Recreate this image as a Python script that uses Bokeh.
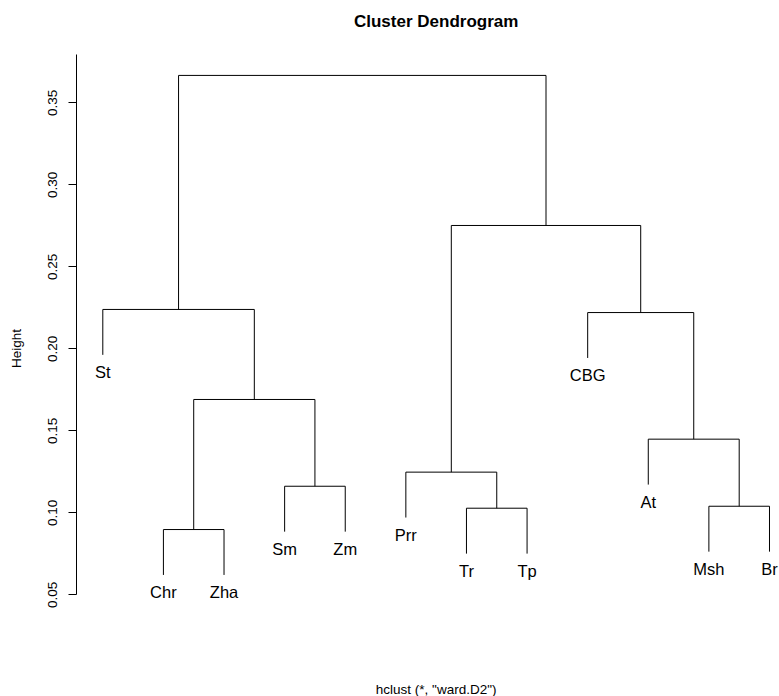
from bokeh.plotting import figure
from bokeh.models import Range1d, FixedTicker, PrintfTickFormatter, Label, ColumnDataSource
from bokeh.core.properties import value
from bokeh.embed import file_html
from bokeh.resources import INLINE

# ---- data ----
leaf_labels = ["St", "Chr", "Zha", "Sm", "Zm", "Prr", "Tr", "Tp", "CBG", "At", "Msh", "Br"]
# hclust-style merge table: negative = leaf (1-based index into leaf_labels), positive = earlier merge
merge_left = [-2, -7, -11, -4, -6, -10, 1, -9, -1, 5, 9]
merge_right = [-3, -8, -12, -5, 2, 3, 4, 6, 7, 8, 10]
merge_height = [0.0898, 0.1028, 0.1040, 0.1162, 0.1248, 0.1449, 0.1691, 0.2221, 0.2240, 0.2752, 0.3667]
y_ticks = [0.05, 0.10, 0.15, 0.20, 0.25, 0.30, 0.35]
axis_top = 0.3795
title_text = "Cluster Dendrogram"
sub_text = 'hclust (*, "ward.D2")'
y_label = "Height"

FONT = "Liberation Sans"

# ---- build dendrogram geometry ----
hang = 0.1 * (max(merge_height) - min(merge_height))
node_x, node_h = {}, {}
x0, y0, x1, y1 = [], [], [], []
leaf_x, leaf_y, leaf_t = [], [], []
for k, (l, r, h) in enumerate(zip(merge_left, merge_right, merge_height), start=1):
    xs = []
    for c in (l, r):
        if c < 0:
            cx = float(-c)
            cy = h - hang
            leaf_x.append(cx)
            leaf_y.append(cy)
            leaf_t.append(leaf_labels[-c - 1])
        else:
            cx = node_x[c]
            cy = node_h[c]
        x0.append(cx); y0.append(cy); x1.append(cx); y1.append(h)
        xs.append(cx)
    x0.append(xs[0]); y0.append(h); x1.append(xs[1]); y1.append(h)
    node_x[k] = (xs[0] + xs[1]) / 2
    node_h[k] = h

p = figure(width=779, height=696, output_backend="svg", toolbar_location=None,
           title=None,
           x_range=Range1d(0.5661, 12.165), y_range=Range1d(-0.01201, 0.41238),
           x_axis_location=None,
           min_border_left=76, min_border_right=0, min_border_top=0, min_border_bottom=0)
p.grid.visible = False
p.outline_line_color = None
p.background_fill_color = "white"
p.border_fill_color = "white"

p.segment(x0=x0, y0=y0, x1=x1, y1=y1, line_color="black", line_width=1)

src = ColumnDataSource(dict(x=leaf_x, y=leaf_y, t=leaf_t))
p.text(x="x", y="y", text="t", source=src, text_align="center", text_baseline="top",
       y_offset=8, text_font=value(FONT), text_font_size="16.5px", text_color="black")

ax = p.yaxis[0]
ax.ticker = FixedTicker(ticks=y_ticks)
ax.formatter = PrintfTickFormatter(format="%.2f")
ax.bounds = (min(y_ticks), axis_top)
ax.major_label_orientation = "vertical"
ax.major_tick_out = 8
ax.major_tick_in = 0
ax.minor_tick_line_color = None
ax.axis_line_color = "black"
ax.major_tick_line_color = "black"
ax.major_label_text_font = FONT
ax.major_label_text_font_size = "13.5px"
ax.major_label_text_color = "black"
ax.major_label_standoff = 11
ax.axis_label = y_label
ax.axis_label_text_font = FONT
ax.axis_label_text_font_size = "13.5px"
ax.axis_label_text_font_style = "normal"
ax.axis_label_text_color = "black"
ax.axis_label_standoff = 22

x_mid = (1 + len(leaf_labels)) / 2
p.add_layout(Label(x=x_mid, y=0.3996, text=title_text, text_align="center",
                   text_baseline="alphabetic", text_font=FONT, text_font_size="17px",
                   text_font_style="bold", text_color="black"))
p.add_layout(Label(x=x_mid, y=-0.0075, text=sub_text, text_align="center",
                   text_baseline="alphabetic", text_font=FONT, text_font_size="13.5px",
                   text_color="black"))

open("out.html", "w").write(file_html(p, INLINE))
